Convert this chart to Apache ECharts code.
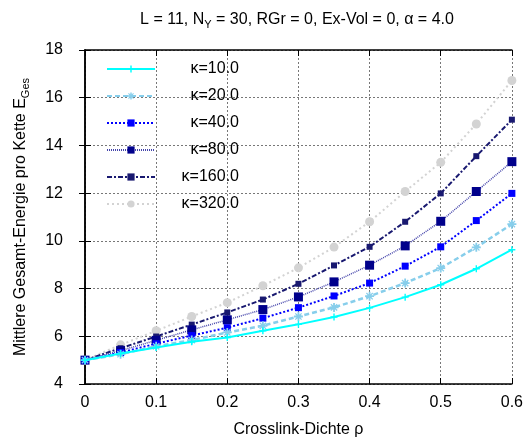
<!DOCTYPE html>
<html>
<head>
<meta charset="utf-8">
<script src="https://cdn.jsdelivr.net/npm/echarts@6/dist/echarts.min.js"></script>
<style>html,body{margin:0;padding:0;background:#fff}#c{width:526px;height:443px}</style>
</head>
<body>
<div id="c"></div>
<script>
const rho = [0, 0.05, 0.1, 0.15, 0.2, 0.25, 0.3, 0.35, 0.4, 0.45, 0.5, 0.55, 0.6];
const kappaLabels = ['κ=10.0', 'κ=20.0', 'κ=40.0', 'κ=80.0', 'κ=160.0', 'κ=320.0'];
const k10  = [5.0, 5.28, 5.53, 5.77, 5.95, 6.23, 6.50, 6.81, 7.19, 7.64, 8.16, 8.83, 9.63];
const k20  = [5.0, 5.25, 5.58, 5.84, 6.16, 6.44, 6.83, 7.21, 7.68, 8.23, 8.86, 9.73, 10.70];
const k40  = [5.0, 5.32, 5.69, 6.03, 6.36, 6.76, 7.20, 7.69, 8.23, 8.94, 9.75, 10.85, 11.99];
const k80  = [5.0, 5.40, 5.83, 6.27, 6.69, 7.12, 7.65, 8.28, 8.98, 9.79, 10.82, 12.07, 13.32];
const k160 = [5.0, 5.50, 5.99, 6.49, 7.00, 7.54, 8.20, 8.97, 9.75, 10.80, 11.99, 13.55, 15.08];
const k320 = [5.0, 5.64, 6.23, 6.83, 7.41, 8.12, 8.87, 9.74, 10.80, 12.07, 13.29, 14.90, 16.72];
const xTicks = {min: 0, max: 0.6, interval: 0.1};
const yTicks = {min: 4, max: 18, interval: 2};

const allSeries = [k10, k20, k40, k80, k160, k320];
const styles = [
  {color: '#00ffff', line: {width: 2, type: 'solid'}, symbol: 'path://M4,0H6V4H10V6H6V10H4V6H0V4H4Z', size: 7},
  {color: '#87ceeb', line: {width: 2.5, type: [5, 3]}, symbol: 'path://M4,0H6V3L8,1L9,2L7,4H10V6H7L9,8L8,9L6,7V10H4V7L2,9L1,8L3,6H0V4H3L1,2L2,1L4,3Z', size: 9},
  {color: '#0000ff', line: {width: 2, type: [2, 2]}, symbol: 'rect', size: 7},
  {color: '#00008b', line: {width: 1.5, type: [1, 1]}, symbol: 'rect', size: 9, lineColor: '#4444aa'},
  {color: '#191970', line: {width: 2, type: [5, 2, 2, 2]}, symbol: 'rect', size: 6},
  {color: '#d3d3d3', line: {width: 2, type: [2, 3]}, symbol: 'circle', size: 9}
];

const series = allSeries.map((vals, i) => ({
  name: kappaLabels[i],
  type: 'line',
  xAxisIndex: 0,
  yAxisIndex: 0,
  data: rho.map((x, j) => [x, vals[j]]),
  symbol: styles[i].symbol,
  symbolSize: styles[i].size,
  showAllSymbol: true,
  itemStyle: {color: styles[i].color},
  lineStyle: Object.assign({color: styles[i].lineColor || styles[i].color}, styles[i].line),
  emphasis: {disabled: true},
  animation: false,
  z: 10 - i
}));

const font = 'Liberation Sans, Arial, Helvetica, sans-serif';
const gridLine = {show: true, lineStyle: {color: '#777', type: [2, 2], width: 1}};
const axLine = {show: true, lineStyle: {color: '#000', width: 1.5}};

const chart = echarts.init(document.getElementById('c'), null, {renderer: 'canvas'});
chart.setOption({
  backgroundColor: '#fff',
  animation: false,
  textStyle: {fontFamily: font},
  title: {
    text: '{a|L = 11, N}{s|Y}{a| = 30, RGr = 0, Ex-Vol = 0, α = 4.0}',
    left: 292, top: 5, textAlign: 'center',
    textStyle: {
      fontWeight: 'normal',
      rich: {
        a: {fontFamily: font, fontSize: 16, fontWeight: 'normal', color: '#000', lineHeight: 20},
        s: {fontFamily: font, fontSize: 11, fontWeight: 'normal', color: '#000', verticalAlign: 'bottom', lineHeight: 14, padding: [7, 0, 0, 0]}
      }
    }
  },
  legend: {
    left: 101, top: 56, orient: 'vertical',
    itemWidth: 48, itemHeight: 9, itemGap: 11,
    data: kappaLabels,
    formatter: n => '{t|' + n + '}',
    textStyle: {rich: {t: {fontFamily: font, fontSize: 16, color: '#000', width: 79, align: 'right', lineHeight: 18}}},
    selectedMode: false
  },
  grid: {left: 85, right: 14, top: 50, bottom: 54, containLabel: false},
  xAxis: [{
    type: 'value', min: xTicks.min, max: xTicks.max, interval: xTicks.interval,
    name: 'Crosslink-Dichte ρ', nameLocation: 'middle', nameGap: 38,
    nameTextStyle: {fontFamily: font, fontSize: 16, color: '#000'},
    axisLine: axLine,
    axisTick: {show: true, inside: true, length: 6, lineStyle: {color: '#000'}},
    axisLabel: {fontFamily: font, fontSize: 16, color: '#000', margin: 11},
    splitLine: gridLine
  }, {
    type: 'value', position: 'top', min: xTicks.min, max: xTicks.max, interval: xTicks.interval,
    axisLine: axLine,
    axisTick: {show: true, inside: true, length: 6, lineStyle: {color: '#000'}},
    axisLabel: {show: false}, splitLine: {show: false}
  }],
  yAxis: [{
    type: 'value', min: yTicks.min, max: yTicks.max, interval: yTicks.interval,
    name: '{a|Mittlere Gesamt-Energie pro Kette E}{s|Ges}', nameLocation: 'middle', nameGap: 54,
    nameTextStyle: {rich: {
      a: {fontFamily: font, fontSize: 16, color: '#000', lineHeight: 20},
      s: {fontFamily: font, fontSize: 11, color: '#000', lineHeight: 14, verticalAlign: 'bottom', padding: [7, 0, 0, 0]}
    }},
    axisLine: axLine,
    axisTick: {show: true, inside: true, length: 6, lineStyle: {color: '#000'}},
    axisLabel: {fontFamily: font, fontSize: 16, color: '#000', margin: 22},
    splitLine: gridLine
  }, {
    type: 'value', position: 'right', min: yTicks.min, max: yTicks.max, interval: yTicks.interval,
    axisLine: axLine,
    axisTick: {show: true, inside: true, length: 6, lineStyle: {color: '#000'}},
    axisLabel: {show: false}, splitLine: {show: false}
  }],
  series: series
});
</script>
</body>
</html>
